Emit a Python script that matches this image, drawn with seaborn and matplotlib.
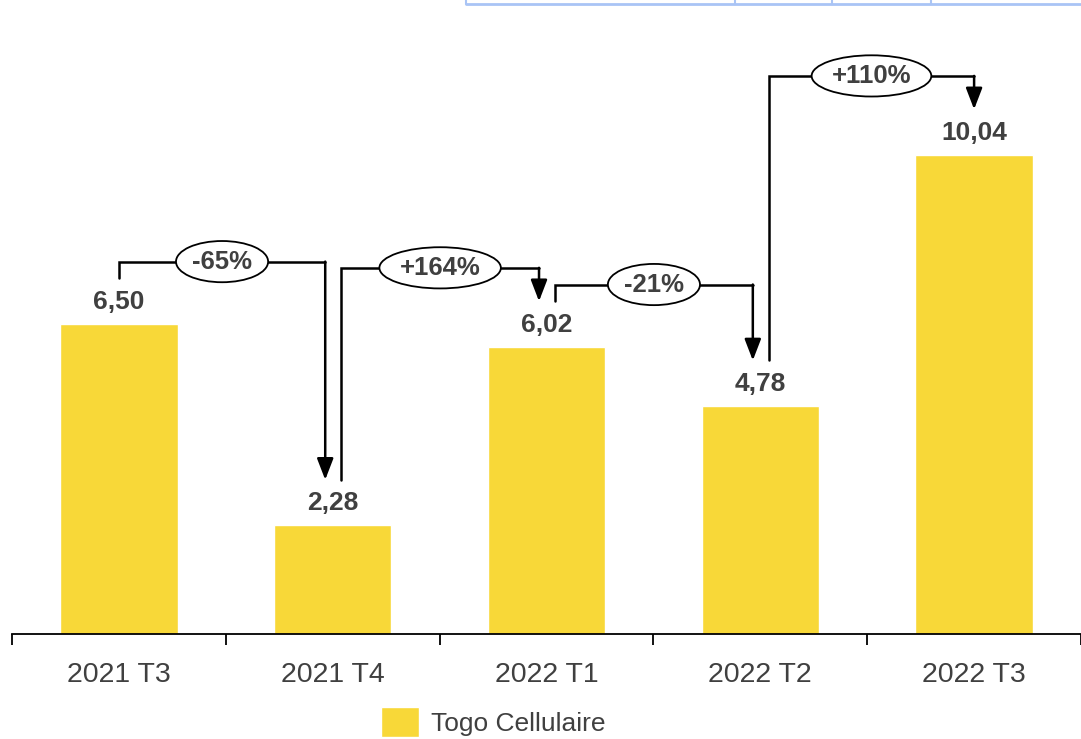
import matplotlib
matplotlib.use("Agg")
import matplotlib.pyplot as plt
from matplotlib.lines import Line2D
import seaborn as sns
import pandas as pd

# données
trimestres = ["2021 T3", "2021 T4", "2022 T1", "2022 T2", "2022 T3"]
valeurs = [6.50, 2.28, 6.02, 4.78, 10.04]
serie = "Togo Cellulaire"

df = pd.DataFrame({"trimestre": trimestres, "valeur": valeurs})

sns.set_style("white")
plt.rcParams["font.family"] = ["Liberation Sans", "DejaVu Sans"]

jaune = "#F8D838"
gris = "#404040"

fig = plt.figure(figsize=(10.81, 7.39), dpi=100)
ax = fig.add_axes([12 / 1081, 105 / 739, 1069 / 1081, 634 / 739])

sns.barplot(data=df, x="trimestre", y="valeur", color=jaune, width=0.55,
            saturation=1, label=serie, ax=ax)
if ax.get_legend() is not None:
    ax.get_legend().remove()

ax.set_xlim(-0.5, 4.5)
ax.set_ylim(0, 13.28)
ax.set_xlabel("")
ax.set_ylabel("")
ax.set_yticks([])
for s in ["top", "right", "left"]:
    ax.spines[s].set_visible(False)
ax.spines["bottom"].set_color("black")
ax.spines["bottom"].set_linewidth(1.3)

# étiquettes au centre, petites graduations aux limites
ax.set_xticks(range(len(trimestres)))
ax.set_xticklabels(trimestres, fontsize=20.5, color=gris)
ax.set_xticks([i - 0.5 for i in range(len(trimestres) + 1)], minor=True)
ax.tick_params(axis="x", which="both", bottom=True)
ax.tick_params(axis="x", which="major", length=0, pad=20)
ax.tick_params(axis="x", which="minor", length=8, width=1.3, color="black", direction="out")

# valeurs au-dessus des barres
ax.bar_label(ax.containers[0], labels=[f"{v:.2f}".replace(".", ",") for v in valeurs],
             padding=7, fontsize=19, fontweight="bold", color=gris)

# flèches d'évolution
decalage = 0.95
niveaux = [1.3, 1.65, 1.3, 1.65]
for i in range(len(valeurs) - 1):
    x0 = i + (0.04 if i > 0 else 0)
    x1 = i + 1 - (0.035 if i + 1 < len(valeurs) - 1 else 0)
    y0 = valeurs[i] + decalage
    y1 = valeurs[i + 1] + decalage
    niveau = max(valeurs[i], valeurs[i + 1]) + niveaux[i]
    ax.plot([x0, x0, x1], [y0, niveau, niveau], color="black", lw=1.8,
            solid_joinstyle="miter")
    ax.annotate("", xy=(x1, y1), xytext=(x1, niveau),
                arrowprops=dict(arrowstyle="-|>,head_length=1.3,head_width=0.5",
                                lw=1.8, color="black", shrinkA=0, shrinkB=0))
    pct = (valeurs[i + 1] - valeurs[i]) / valeurs[i] * 100
    txt = f"{pct:+.0f}%".replace("+-", "-")
    ax.text((x0 + x1) / 2, niveau, txt, ha="center", va="center",
            fontsize=18.5, fontweight="bold", color=gris, zorder=5,
            bbox=dict(boxstyle="ellipse,pad=0.1", fc="white", ec="black", lw=1.3))

# légende
fig.legend(loc="center", bbox_to_anchor=(0.456, 0.023), frameon=False,
           prop={"size": 19}, handlelength=1.45, handleheight=1.4,
           handletextpad=0.45, labelcolor=gris)

# fragment de tableau en haut
bleu = "#A9C4F5"
y_bas = 1 - 4 / 739
fig.add_artist(Line2D([466 / 1081, 1], [y_bas, y_bas], color=bleu, lw=2,
                      transform=fig.transFigure))
for xp in [466, 735, 832, 931]:
    fig.add_artist(Line2D([xp / 1081, xp / 1081], [y_bas, 1], color=bleu, lw=1.5,
                          transform=fig.transFigure))

fig.savefig("out.png", dpi=100)
